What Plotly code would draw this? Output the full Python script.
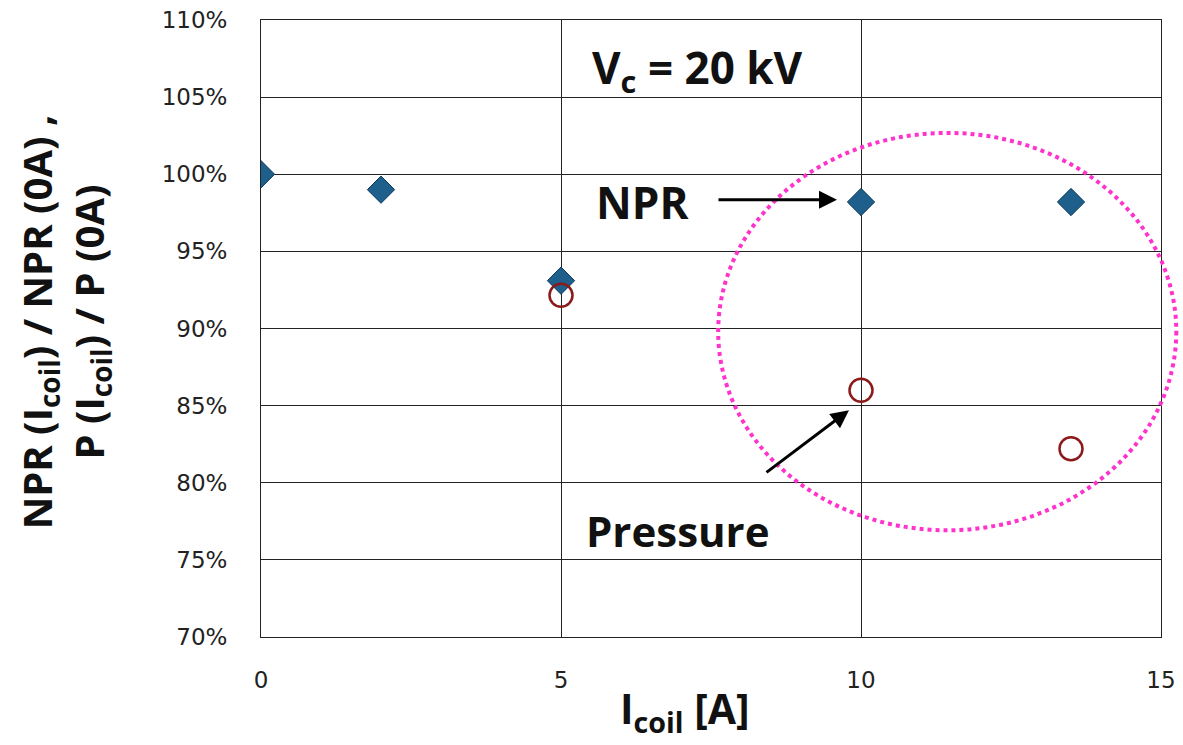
import plotly.graph_objects as go

npr_x = [0, 2, 5, 10, 13.5]
npr_y = [1.000, 0.990, 0.931, 0.982, 0.982]
p_x = [5, 10, 13.5]
p_y = [0.9215, 0.860, 0.822]

x_ticks = [0, 5, 10, 15]
y_ticks = [0.70, 0.75, 0.80, 0.85, 0.90, 0.95, 1.00, 1.05, 1.10]

fig = go.Figure()
fig.add_trace(go.Scatter(x=npr_x, y=npr_y, mode="markers", name="NPR",
                         marker=dict(symbol="diamond", size=21, color="#1F5F8B",
                                     line=dict(color="#0E3A5C", width=1))))
fig.add_trace(go.Scatter(x=p_x, y=p_y, mode="markers", name="Pressure",
                         marker=dict(symbol="circle-open", size=23, color="#8B1A1A",
                                     line=dict(color="#8B1A1A", width=2.5))))

bold = "Open Sans"
tickfam = "DejaVu Sans"
fig.update_layout(
    width=1183, height=745,
    margin=dict(l=261, r=22, t=20, b=108),
    paper_bgcolor="white", plot_bgcolor="white",
    showlegend=False,
    xaxis=dict(range=[0, 15], tickvals=x_ticks, showgrid=True, gridcolor="#222",
               gridwidth=1, showline=True, linecolor="#222", mirror=True, automargin=False,
               zeroline=False, ticks="outside", ticklen=22, tickcolor="white",
               tickfont=dict(family=tickfam, size=23, color="#222")),
    yaxis=dict(range=[0.70, 1.10], tickvals=y_ticks, tickformat=".0%", showgrid=True,
               gridcolor="#222", gridwidth=1, showline=True, linecolor="#222", mirror=True,
               automargin=False,
               zeroline=False, ticks="outside", ticklen=28, tickcolor="white",
               tickfont=dict(family=tickfam, size=23, color="#222")),
)

# axis titles
fig.add_annotation(xref="paper", yref="paper", x=(685 - 261) / 900, y=(637 - 710) / 617,
                   xanchor="center", yanchor="middle",
                   text="<b>I<sub>coil</sub> [A]</b>", showarrow=False,
                   font=dict(family=bold, size=41, color="#111"))
fig.add_annotation(xref="paper", yref="paper", x=(64 - 261) / 900, y=0.51, textangle=-90,
                   xanchor="center", yanchor="middle",
                   text="<b>NPR (I<sub>coil</sub>) / NPR (0A) ,<br>P (I<sub>coil</sub>) / P (0A)</b>",
                   showarrow=False, font=dict(family=bold, size=40, color="#111"))

fig.add_annotation(x=7.27, y=1.068, text="<b>V<sub>c</sub> = 20 kV</b>", showarrow=False,
                   font=dict(family=bold, size=44, color="#111"))
fig.add_annotation(x=6.35, y=0.982, text="<b>NPR</b>", showarrow=False,
                   font=dict(family=bold, size=44, color="#111"))
fig.add_annotation(x=6.95, y=0.769, text="<b>Pressure</b>", showarrow=False,
                   font=dict(family=bold, size=42, color="#111"))

# arrows
fig.add_annotation(x=9.6, y=0.9835, ax=7.6, ay=0.9835, xref="x", yref="y", axref="x", ayref="y",
                   text="", showarrow=True, arrowhead=2, arrowsize=1.2, arrowwidth=3, arrowcolor="#000")
fig.add_annotation(x=9.8, y=0.847, ax=8.4, ay=0.806, xref="x", yref="y", axref="x", ayref="y",
                   text="", showarrow=True, arrowhead=2, arrowsize=1.2, arrowwidth=3, arrowcolor="#000")

fig.add_shape(type="circle", xref="paper", yref="paper", x0=0.508, x1=1.017, y0=0.173, y1=0.817,
              line=dict(color="#FF33CC", width=4, dash="dot"), layer="above")

fig.write_html("out.html")
